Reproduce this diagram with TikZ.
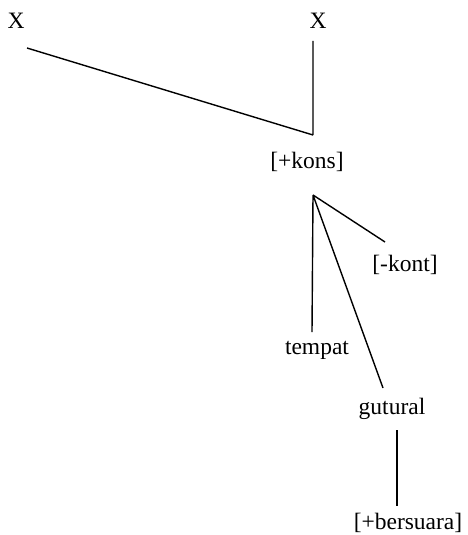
\documentclass[tikz,border=0pt]{standalone}
\usepackage{fontspec}
\setmainfont{Liberation Serif}
\usepackage{tikz}

\begin{document}
\begin{tikzpicture}[x=1pt,y=-1pt,line width=1.4pt,
  every node/.style={anchor=base,inner sep=0pt,font=\fontsize{23.5}{27}\selectfont}]
\useasboundingbox (0,0) rectangle (468,535);

\node (x1) at (16,29) {X};
\node (x2) at (318,29) {X};
\node (kons) at (307,168) {[+kons]};
\node (kont) at (405,271) {[-kont]};
\node (tempat) at (317,354) {tempat};
\node (gutural) at (392,414) {gutural};
\node (bersuara) at (408,529) {[+bersuara]};

\coordinate (x1b) at (27,48);
\coordinate (x2b) at (313,41);
\coordinate (konst) at (313,135);
\coordinate (konsb) at (313,195);
\coordinate (kontt) at (385,242);
\coordinate (tempatt) at (312,332);
\coordinate (guturalt) at (383,388);
\coordinate (guturalb) at (397,430);
\coordinate (bersuarat) at (397,506);

\draw (x1b) -- (konst) (x2b) -- (konst);
\draw (konsb) -- (kontt) (konsb) -- (tempatt) (konsb) -- (guturalt);
\draw (guturalb) -- (bersuarat);
\end{tikzpicture}
\end{document}
